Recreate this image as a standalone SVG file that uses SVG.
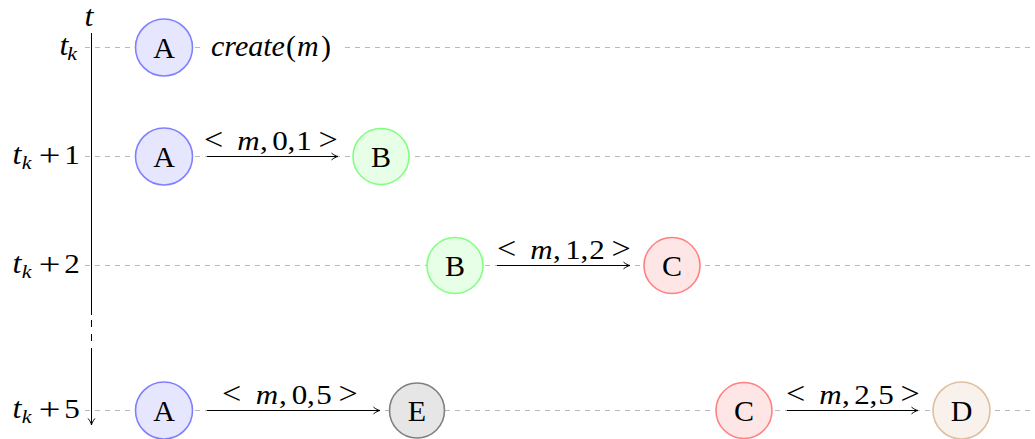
<svg xmlns="http://www.w3.org/2000/svg" width="1035" height="439" viewBox="0 0 1035 439">
<style>
text{font-family:"Liberation Serif","DejaVu Serif",serif;font-size:30px;fill:#000}
.i{font-style:italic}
.g{font-size:27px;text-anchor:middle}
.lt{font-size:31px;text-anchor:middle}
.tt{font-size:29px;font-style:italic;text-anchor:middle}
.sb{font-size:19px;font-style:italic;text-anchor:middle}
.pl{font-size:32px;text-anchor:middle}
.grid{stroke:#b9b9b9;stroke-width:1;stroke-dasharray:5 5;fill:none}
.ax{stroke:#000;stroke-width:1;fill:none}
.arr{stroke:#000;stroke-width:1;fill:none;marker-end:url(#ah)}
.nA{fill:#e6e6ff;stroke:#8080ff;stroke-width:1.6}
.nB{fill:#e6ffe6;stroke:#80ff80;stroke-width:1.6}
.nC{fill:#ffe6e6;stroke:#ff8080;stroke-width:1.6}
.nD{fill:#f9f2ec;stroke:#dfbf9f;stroke-width:1.6}
.nE{fill:#e6e6e6;stroke:#808080;stroke-width:1.6}
.nt{text-anchor:middle}
</style>
<defs>
<marker id="ah" markerUnits="userSpaceOnUse" viewBox="-8 -5 10 10" refX="0" refY="0" markerWidth="10" markerHeight="10" orient="auto">
<path d="M-6.5,-3.4 C-4.2,-1.4 -1.6,-0.3 0,0 C-1.6,0.3 -4.2,1.4 -6.5,3.4" fill="none" stroke="#000" stroke-width="1"/>
</marker>
</defs>
<rect width="1035" height="439" fill="#fff"/>
<g id="grid">
<line class="grid" x1="85" y1="47.5" x2="1035" y2="47.5"/>
<line class="grid" x1="85" y1="156.5" x2="1035" y2="156.5"/>
<line class="grid" x1="85" y1="265.5" x2="1035" y2="265.5"/>
<line class="grid" x1="85" y1="410.5" x2="1035" y2="410.5"/>
</g>
<g id="axis">
<line class="ax" x1="91.5" y1="33" x2="91.5" y2="315"/>
<line class="ax" x1="91.5" y1="320" x2="91.5" y2="327"/>
<line class="ax" x1="91.5" y1="334" x2="91.5" y2="341"/>
<line class="ax" x1="91.5" y1="348" x2="91.5" y2="425" marker-end="url(#ah)"/>
<text class="tt" transform="translate(89 26) scale(1.1 1)">t</text>
</g>
<g id="time-labels">
<text class="tt" transform="translate(64 55) scale(1.1 1)">t</text><text class="sb" transform="translate(72 60) scale(1.15 1)">k</text>
<text class="tt" transform="translate(17 164) scale(1.1 1)">t</text><text class="sb" transform="translate(26.5 169) scale(1.15 1)">k</text><text class="pl" transform="translate(49.5 165.5) scale(1.2 1)">+</text><text class="g" transform="translate(72 164) scale(1.15 1)">1</text>
<text class="tt" transform="translate(17 273) scale(1.1 1)">t</text><text class="sb" transform="translate(26.5 278) scale(1.15 1)">k</text><text class="pl" transform="translate(49.5 274.5) scale(1.2 1)">+</text><text class="g" transform="translate(72 273) scale(1.15 1)">2</text>
<text class="tt" transform="translate(17 418) scale(1.1 1)">t</text><text class="sb" transform="translate(26.5 423) scale(1.15 1)">k</text><text class="pl" transform="translate(49.5 419.5) scale(1.2 1)">+</text><text class="g" transform="translate(72 418) scale(1.15 1)">5</text>
</g>
<g id="create-label">
<rect x="201" y="30" width="143" height="34" fill="#fff"/>
<text class="i" x="211" y="56">create</text>
<text x="286" y="56">(</text>
<text class="i" x="297" y="56">m</text>
<text x="321" y="56">)</text>
</g>
<g id="connectors">
<line class="arr" x1="207" y1="156.5" x2="338" y2="156.5"/>
<line class="arr" x1="497" y1="265.5" x2="630" y2="265.5"/>
<line class="arr" x1="207" y1="410.5" x2="380" y2="410.5"/>
<line class="arr" x1="787" y1="410.5" x2="918" y2="410.5"/>
</g>
<g id="label-m01">
<text class="lt" transform="translate(213.5 150) scale(1.1 1)">&lt;</text><text class="g i" transform="translate(248.5 149.5) scale(1.15 1)">m</text><text class="g" transform="translate(264 149.5) scale(1.15 1)">,</text><text class="g" transform="translate(280 149.5) scale(1.15 1)">0</text><text class="g" transform="translate(291.5 149.5) scale(1.15 1)">,</text><text class="g" transform="translate(304 149.5) scale(1.15 1)">1</text><text class="lt" transform="translate(328 150) scale(1.1 1)">&gt;</text>
</g>
<g id="label-m12">
<text class="lt" transform="translate(506.5 259) scale(1.1 1)">&lt;</text><text class="g i" transform="translate(541.5 258.5) scale(1.15 1)">m</text><text class="g" transform="translate(557 258.5) scale(1.15 1)">,</text><text class="g" transform="translate(573 258.5) scale(1.15 1)">1</text><text class="g" transform="translate(584.5 258.5) scale(1.15 1)">,</text><text class="g" transform="translate(597 258.5) scale(1.15 1)">2</text><text class="lt" transform="translate(621 259) scale(1.1 1)">&gt;</text>
</g>
<g id="label-m05">
<text class="lt" transform="translate(231.5 404) scale(1.1 1)">&lt;</text><text class="g i" transform="translate(267 403.5) scale(1.15 1)">m</text><text class="g" transform="translate(283 403.5) scale(1.15 1)">,</text><text class="g" transform="translate(299.5 403.5) scale(1.15 1)">0</text><text class="g" transform="translate(311 403.5) scale(1.15 1)">,</text><text class="g" transform="translate(324 403.5) scale(1.15 1)">5</text><text class="lt" transform="translate(348 404) scale(1.1 1)">&gt;</text>
</g>
<g id="label-m25">
<text class="lt" transform="translate(795.5 404) scale(1.1 1)">&lt;</text><text class="g i" transform="translate(830.5 403.5) scale(1.15 1)">m</text><text class="g" transform="translate(846 403.5) scale(1.15 1)">,</text><text class="g" transform="translate(862 403.5) scale(1.15 1)">2</text><text class="g" transform="translate(873.5 403.5) scale(1.15 1)">,</text><text class="g" transform="translate(886 403.5) scale(1.15 1)">5</text><text class="lt" transform="translate(910 404) scale(1.1 1)">&gt;</text>
</g>
<g id="node-A1"><circle class="nA" cx="164" cy="47.5" r="28.5"/><text class="nt" x="164" y="57.5">A</text></g>
<g id="node-A2"><circle class="nA" cx="164" cy="156.5" r="28.5"/><text class="nt" x="164" y="166.5">A</text></g>
<g id="node-B1"><circle class="nB" cx="381" cy="156.5" r="28"/><text class="nt" x="381" y="166.5">B</text></g>
<g id="node-B2"><circle class="nB" cx="455" cy="265.5" r="28"/><text class="nt" x="455" y="275.5">B</text></g>
<g id="node-C1"><circle class="nC" cx="672" cy="265.5" r="28"/><text class="nt" x="672" y="275.5">C</text></g>
<g id="node-A3"><circle class="nA" cx="164" cy="410.5" r="28.5"/><text class="nt" x="164" y="420.5">A</text></g>
<g id="node-E"><circle class="nE" cx="417" cy="410.5" r="27.5"/><text class="nt" x="417" y="420.5">E</text></g>
<g id="node-C2"><circle class="nC" cx="744" cy="410.5" r="28"/><text class="nt" x="744" y="420.5">C</text></g>
<g id="node-D"><circle class="nD" cx="961.5" cy="410.5" r="28.5"/><text class="nt" x="961.5" y="420.5">D</text></g>
</svg>
